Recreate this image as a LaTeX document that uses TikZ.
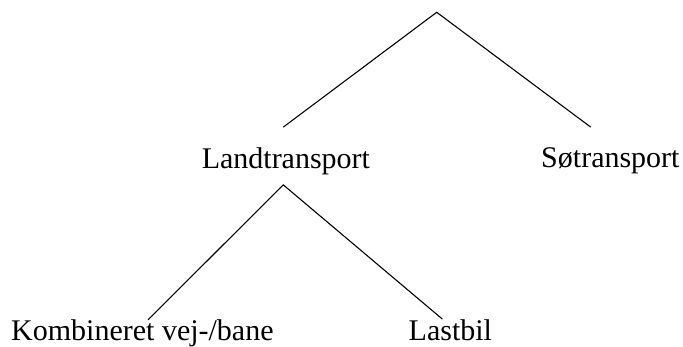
\documentclass[tikz,border=0pt]{standalone}
\usepackage{fontspec}
\setmainfont{Liberation Serif}
\usetikzlibrary{calc}
\begin{document}
\begin{tikzpicture}[x=1pt,y=-1pt,
  lbl/.style={inner sep=0pt, font=\fontsize{30}{36}\selectfont, text height=20pt, text depth=6pt},
  edge/.style={line width=1.1pt}]
\useasboundingbox (0,0) rectangle (683,347);
\coordinate (root) at (436.7,12.3);
\node[lbl, anchor=base] (land) at (285.9,169) {Landtransport};
\node[lbl, anchor=base] (sea) at (610.4,168) {Søtransport};
\node[lbl, anchor=base west] (komb) at (11,340.5) {Kombineret vej-/bane};
\node[lbl, anchor=base west] (last) at (408.5,340.5) {Lastbil};
\draw[edge] ($(land.north)+(-2.6,-21.7)$) -- (root) -- ($(sea.north)+(-19.7,-20.7)$);
\draw[edge] ($(komb.north west)+(137,-0.5)$) -- ($(land.south)+(-2.6,9.7)$) -- ($(last.north)+(-8,-1.2)$);
\end{tikzpicture}
\end{document}
